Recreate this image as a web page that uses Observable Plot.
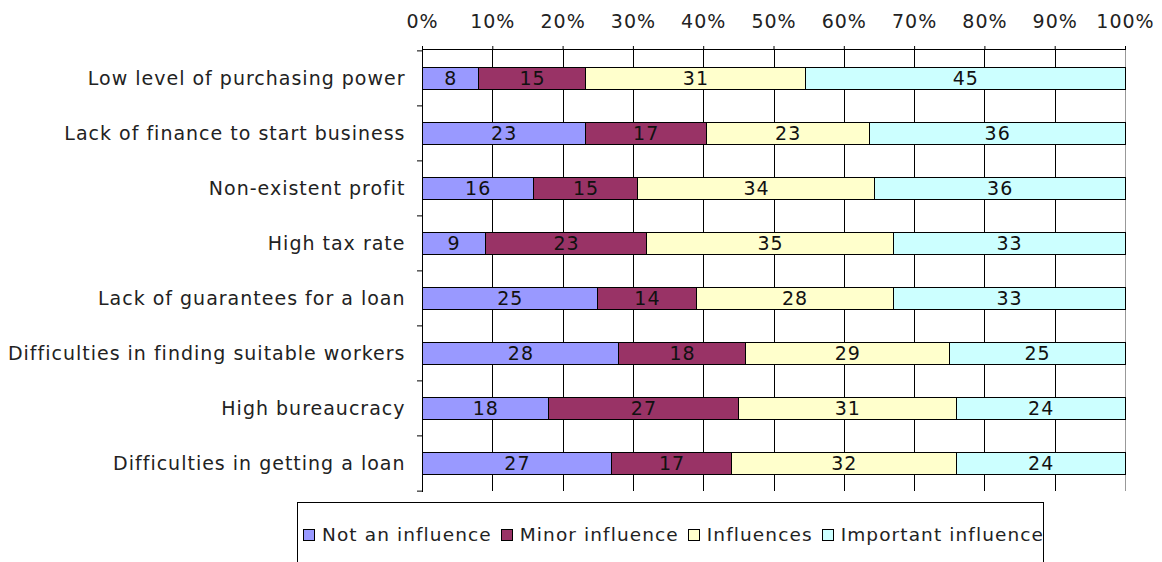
<!DOCTYPE html>
<html>
<head>
<meta charset="utf-8">
<script src="https://cdn.jsdelivr.net/npm/d3@7"></script>
<script src="https://cdn.jsdelivr.net/npm/@observablehq/plot@0.6"></script>
<style>
  html, body { margin: 0; padding: 0; background: #fff; }
  body { width: 1162px; height: 562px; position: relative; overflow: hidden; font-family: "DejaVu Sans", Verdana, sans-serif; }
  #chart svg text { letter-spacing: 1px; }
  #legend {
    position: absolute; left: 297px; top: 502px; width: 747px; height: 80px;
    border: 1.5px solid #000; overflow: hidden; box-sizing: border-box;
    font-size: 18.5px; color: #222; letter-spacing: 1.1px;
  }
  #legend .row { display: flex; flex-wrap: nowrap; white-space: nowrap; align-items: center; padding: 21px 0 0 5px; }
  #legend .sw { width: 10px; height: 10px; border: 1.5px solid #000; margin-right: 7px; flex: none; }
  #legend .lab { margin-right: 9px; flex: none; }
</style>
</head>
<body>
<div id="chart"></div>
<div id="legend"><div class="row"></div></div>
<script>
const categories = [
  "Low level of purchasing power",
  "Lack of finance to start business",
  "Non-existent profit",
  "High tax rate",
  "Lack of guarantees for a loan",
  "Difficulties in finding suitable workers",
  "High bureaucracy",
  "Difficulties in getting a loan"
];
const seriesNames = ["Not an influence", "Minor influence", "Influences", "Important influence"];
const notAnInfluence     = [8, 23, 16, 9, 25, 28, 18, 27];
const minorInfluence     = [15, 17, 15, 23, 14, 18, 27, 17];
const influences         = [31, 23, 34, 35, 28, 29, 31, 32];
const importantInfluence = [45, 36, 36, 33, 33, 25, 24, 24];
const seriesColors = ["#9999FF", "#993366", "#FFFFCC", "#CCFFFF"];
const xTicks = [0, 0.1, 0.2, 0.3, 0.4, 0.5, 0.6, 0.7, 0.8, 0.9, 1];

const seriesValues = [notAnInfluence, minorInfluence, influences, importantInfluence];
const table = categories.flatMap((c, i) =>
  seriesNames.map((s, j) => ({category: c, series: s, value: seriesValues[j][i]}))
);

const height = 500, marginTop = 49, marginBottom = 9;
const step = (height - marginTop - marginBottom) / categories.length;
const fs = 19;

const chart = Plot.plot({
  width: 1162,
  height,
  marginTop,
  marginBottom,
  marginLeft: 422,
  marginRight: 37,
  style: {fontFamily: "DejaVu Sans, Verdana, sans-serif", fontSize: fs + "px", color: "#222", background: "#fff"},
  x: {domain: [0, 1], axis: null, label: null},
  y: {domain: categories, paddingInner: 0.6, paddingOuter: 0.3, axis: null, label: null},
  color: {domain: seriesNames, range: seriesColors},
  marks: [
    Plot.gridX(xTicks.slice(0, -1), {stroke: "#000", strokeOpacity: 1, shapeRendering: "crispEdges"}),
    Plot.gridX(xTicks.slice(-1), {stroke: "#999", strokeOpacity: 1, shapeRendering: "crispEdges"}),
    Plot.barX(table, Plot.stackX({offset: "normalize", order: null, y: "category", x: "value", z: "series", fill: "series", stroke: "#000", strokeWidth: 1, shapeRendering: "crispEdges"})),
    Plot.text(table, Plot.stackX({offset: "normalize", order: null, y: "category", x: "value", z: "series", text: d => String(d.value), fill: "#111", fontSize: fs})),
    Plot.frame({anchor: "top", stroke: "#000", shapeRendering: "crispEdges"}),
    Plot.frame({anchor: "left", stroke: "#000", shapeRendering: "crispEdges"}),
    Plot.axisX({anchor: "top", label: null, ticks: xTicks, tickFormat: d3.format(".0%"), tickSize: 4, tickPadding: 18, fontSize: fs, fill: "#222", stroke: "#000"}),
    Plot.axisY({anchor: "left", label: null, tickSize: 0, tickPadding: 17, fontSize: fs, fill: "#222"}),
    Plot.axisY({anchor: "left", label: null, text: null, tickSize: 5, dy: -step / 2, stroke: "#000"}),
    Plot.axisY(categories.slice(-1), {anchor: "left", label: null, text: null, tickSize: 5, dy: step / 2, stroke: "#000"})
  ]
});
document.getElementById("chart").append(chart);

const row = document.querySelector("#legend .row");
seriesNames.forEach((s, i) => {
  const sw = document.createElement("span");
  sw.className = "sw";
  sw.style.background = seriesColors[i];
  const lab = document.createElement("span");
  lab.className = "lab";
  lab.textContent = s;
  row.append(sw, lab);
});
</script>
</body>
</html>
